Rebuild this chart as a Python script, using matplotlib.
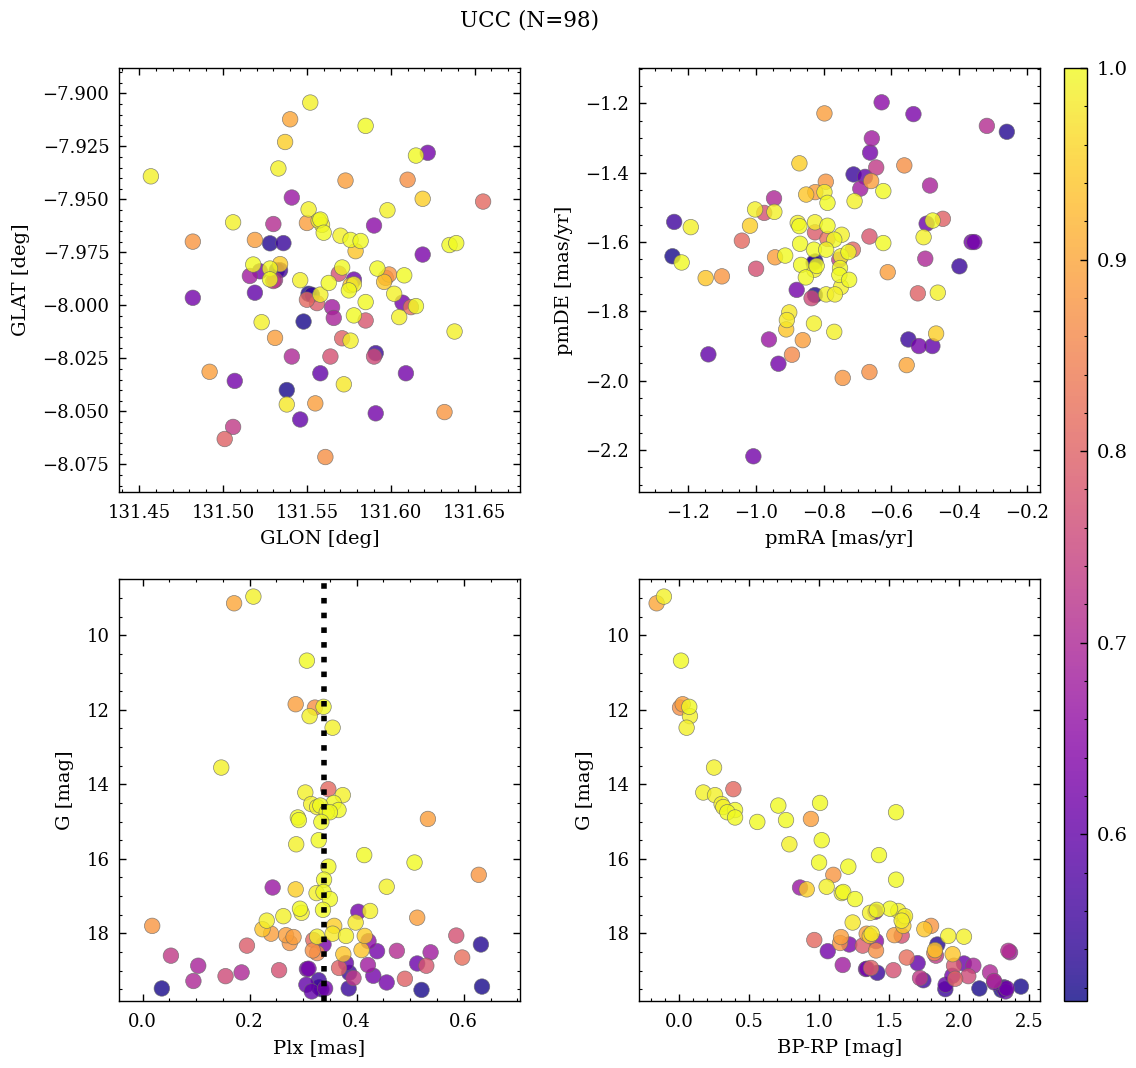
import matplotlib
matplotlib.use("Agg")
import matplotlib.pyplot as plt
import numpy as np
from matplotlib.ticker import MultipleLocator

# ---------------- data (one entry per star) ----------------
# stars grouped by membership-probability class: Y(38) YO(6) O(13) S(10) M(9) P(13) B(9)
gmag = [8.96, 10.68, 11.92, 12.17, 12.48, 13.55, 14.22, 14.29, 14.50, 14.53, 14.57, 14.61, 14.69,
        14.75, 14.75, 14.89, 14.96, 15.01, 15.50, 15.61, 15.90, 16.10, 16.21, 16.56, 16.75, 16.89,
        16.92, 17.08, 17.34, 17.37, 17.40, 17.45, 17.54, 17.66, 17.71, 18.01, 18.07, 18.09,
        16.82, 17.80, 17.89, 18.07, 18.45, 18.56,
        9.14, 11.85, 11.94, 14.93, 16.43, 17.58, 17.80, 18.01, 18.05, 18.10, 18.26, 18.46, 18.53,
        14.13, 18.06, 18.18, 18.33, 18.65, 18.87, 18.93, 18.99, 19.15, 19.22,
        16.77, 18.47, 18.51, 18.60, 18.85, 18.87, 19.05, 19.20, 19.28,
        17.42, 18.21, 18.30, 18.48, 18.80, 18.81, 18.96, 19.14, 19.32, 19.38, 19.48, 19.56, 18.95,
        18.30, 19.06, 19.26, 19.43, 19.48, 19.48, 19.52, 19.50, 19.45]

bprp = [-0.110, 0.012, 0.071, 0.076, 0.052, 0.248, 0.171, 0.255, 1.005, 0.302, 0.707, 0.314, 0.398,
        0.343, 1.548, 0.398, 0.762, 0.557, 1.017, 0.786, 1.426, 0.998, 1.207, 1.548, 1.052, 1.171,
        1.160, 1.255, 1.505, 1.410, 1.564, 1.362, 1.612, 1.588, 1.238, 1.374, 1.921, 2.033,
        0.910, 1.600, 1.750, 1.36, 1.826, 1.952,
        -0.162, 0.024, 0.005, 0.940, 1.100, 1.60, 1.798, 1.338, 1.536, 1.155, 1.148, 1.405, 1.821,
        0.386, 1.588, 0.964, 1.310, 1.624, 1.962, 1.369, 1.529, 2.064, 1.97,
        0.862, 2.350, 2.362, 1.833, 1.167, 2.100, 2.219, 1.719, 2.248,
        1.40, 1.405, 1.214, 1.060, 1.702, 2.033, 1.333, 1.950, 2.25, 1.902, 2.338, 2.33, 1.34,
        1.843, 1.414, 1.743, 2.440, 2.143, 2.314, 2.30, 1.90, 2.32]

plx = [0.207, 0.307, 0.338, 0.312, 0.355, 0.147, 0.304, 0.374, 0.357, 0.315, 0.332, 0.326, 0.366,
       0.344, 0.350, 0.290, 0.292, 0.334, 0.329, 0.287, 0.414, 0.508, 0.347, 0.339, 0.456, 0.338,
       0.325, 0.350, 0.294, 0.337, 0.425, 0.297, 0.263, 0.232, 0.398, 0.355, 0.380, 0.326,
       0.286, 0.358, 0.224, 0.415, 0.409, 0.375,
       0.171, 0.286, 0.322, 0.533, 0.628, 0.513, 0.018, 0.240, 0.268, 0.282, 0.275, 0.318, 0.326,
       0.347, 0.586, 0.319, 0.195, 0.597, 0.530, 0.367, 0.255, 0.155, 0.490,
       0.243, 0.475, 0.538, 0.053, 0.421, 0.104, 0.185, 0.394, 0.095,
       0.403, 0.422, 0.338, 0.438, 0.380, 0.513, 0.307, 0.431, 0.456, 0.306, 0.341, 0.316, 0.310,
       0.632, 0.386, 0.329, 0.634, 0.036, 0.385, 0.521, 0.334, 0.330]

prob = [0.99, 1.00, 1.00, 0.99, 0.99, 0.99, 0.99, 0.99, 1.00, 0.99, 1.00, 0.99, 1.00,
        1.00, 1.00, 1.00, 1.00, 1.00, 1.00, 0.99, 1.00, 1.00, 1.00, 1.00, 0.99, 1.00,
        0.99, 1.00, 1.00, 1.00, 0.99, 0.99, 0.99, 0.99, 0.98, 0.98, 0.99, 0.99,
        0.95, 0.95, 0.94, 0.95, 0.94, 0.94,
        0.90, 0.89, 0.87, 0.89, 0.88, 0.89, 0.88, 0.89, 0.89, 0.89, 0.88, 0.87, 0.86,
        0.81, 0.77, 0.81, 0.79, 0.82, 0.78, 0.80, 0.77, 0.76, 0.80,
        0.67, 0.71, 0.68, 0.73, 0.68, 0.69, 0.70, 0.73, 0.70,
        0.62, 0.65, 0.63, 0.62, 0.60, 0.61, 0.62, 0.62, 0.62, 0.60, 0.62, 0.60, 0.62,
        0.53, 0.55, 0.56, 0.52, 0.52, 0.55, 0.52, 0.55, 0.54]

glon = [131.552, 131.585, 131.615, 131.457, 131.533, 131.551, 131.598, 131.506, 131.558, 131.559,
        131.560, 131.570, 131.576, 131.582, 131.635, 131.639, 131.518, 131.528, 131.528, 131.546,
        131.563, 131.571, 131.575, 131.592, 131.602, 131.608, 131.558, 131.585, 131.615, 131.578,
        131.605, 131.523, 131.638, 131.576, 131.572, 131.538, 131.557, 131.578,
        131.537, 131.619, 131.579, 131.534, 131.576, 131.596,
        131.540, 131.573, 131.610, 131.550, 131.482, 131.519, 131.599, 131.531, 131.492, 131.555,
        131.632, 131.561, 131.597,
        131.655, 131.569, 131.550, 131.556, 131.612, 131.585, 131.571, 131.564, 131.590, 131.501,
        131.541, 131.530, 131.516, 131.530, 131.565, 131.566, 131.541, 131.506, 131.531,
        131.622, 131.590, 131.619, 131.522, 131.519, 131.578, 131.482, 131.607, 131.507, 131.558,
        131.609, 131.546, 131.591,
        131.528, 131.536, 131.534, 131.551, 131.548, 131.591, 131.538, 131.532, 131.553]

glat = [-7.9043, -7.9153, -7.9293, -7.9391, -7.9354, -7.9547, -7.9551, -7.9608, -7.9595, -7.9620,
        -7.9657, -7.9671, -7.9691, -7.9696, -7.9715, -7.9706, -7.9807, -7.9826, -7.9877, -7.9881,
        -7.9894, -7.9821, -7.9929, -7.9826, -7.9945, -7.9858, -7.9949, -7.9984, -8.0003, -8.0047,
        -8.0055, -8.0079, -8.0123, -8.0166, -8.0372, -8.0467, -7.9600, -7.9900,
        -7.9229, -7.9497, -7.9744, -7.9805, -7.9905, -7.9889,
        -7.9122, -7.9411, -7.9407, -7.9611, -7.9699, -7.9691, -7.9854, -8.0153, -8.0313, -8.0462,
        -8.0503, -8.0715, -7.9870,
        -7.9510, -7.9850, -7.9973, -7.9989, -8.0008, -8.0071, -8.0155, -8.0241, -8.0241, -8.0630,
        -7.9491, -7.9616, -7.9861, -7.9885, -8.0008, -8.0059, -8.0241, -8.0573, -7.9880,
        -7.9280, -7.9623, -7.9760, -7.9839, -7.9940, -7.9878, -7.9964, -7.9987, -8.0356, -8.0320,
        -8.0320, -8.0538, -8.0509,
        -7.9707, -7.9706, -7.9834, -7.9945, -8.0076, -8.0225, -8.0399, -7.9835, -7.9950]

pmra = [-0.798, -0.624, -0.789, -0.709, -1.003, -0.946, -1.193, -0.877, -0.872, -0.826,
        -0.789, -0.747, -0.769, -0.870, -0.829, -0.793, -0.727, -0.624, -0.478, -0.505,
        -1.220, -0.914, -0.867, -0.821, -0.828, -0.853, -0.749, -0.752, -0.754, -0.725,
        -0.749, -0.793, -0.767, -0.463, -0.902, -0.909, -0.829, -0.769, -0.468,
        -0.872, -0.852, -1.018, -1.149, -0.911, -0.555,
        -0.798, -0.562, -0.660, -0.794, -0.825, -1.101, -0.944, -0.611, -0.862, -0.744,
        -0.665, -0.894, -0.714,
        -0.976, -1.042, -0.826, -0.789, -0.665, -0.448, -1.000, -0.836, -0.522, -0.962,
        -0.318, -0.658, -0.645, -0.692, -0.486, -0.947, -0.754, -0.500, -0.934,
        -0.629, -0.535, -0.663, -0.678, -0.496, -0.363, -0.355, -0.880, -1.141, -0.519,
        -0.479, -1.008,
        -0.259, -0.712, -1.242, -1.247, -0.825, -0.399, -0.826, -0.550, -0.830]

pmde = [-1.456, -1.453, -1.487, -1.482, -1.506, -1.513, -1.557, -1.545, -1.554, -1.543,
        -1.553, -1.579, -1.593, -1.605, -1.622, -1.622, -1.629, -1.603, -1.538, -1.586,
        -1.659, -1.639, -1.666, -1.669, -1.680, -1.702, -1.641, -1.675, -1.695, -1.709,
        -1.730, -1.751, -1.751, -1.746, -1.803, -1.825, -1.835, -1.859, -1.864,
        -1.373, -1.463, -1.553, -1.704, -1.852, -1.955,
        -1.229, -1.379, -1.424, -1.426, -1.456, -1.699, -1.644, -1.687, -1.883, -1.992,
        -1.975, -1.925, -1.622,
        -1.516, -1.596, -1.572, -1.591, -1.584, -1.533, -1.677, -1.762, -1.748, -1.881,
        -1.265, -1.301, -1.385, -1.446, -1.437, -1.474, -1.651, -1.648, -1.951,
        -1.197, -1.231, -1.342, -1.412, -1.547, -1.600, -1.600, -1.738, -1.924, -1.900,
        -1.900, -2.218,
        -1.282, -1.405, -1.542, -1.641, -1.656, -1.670, -1.753, -1.881, -1.660]

plx_cluster = 0.339
title = "UCC (N=98)"

# ---------------- style ----------------
plt.rcParams.update({
    "font.family": "serif",
    "font.serif": ["DejaVu Serif"],
    "font.size": 13,
    "axes.labelsize": 14,
    "xtick.direction": "in", "ytick.direction": "in",
    "xtick.top": True, "ytick.right": True,
    "xtick.major.size": 5, "ytick.major.size": 5,
    "xtick.minor.size": 2.5, "ytick.minor.size": 2.5,
    "xtick.major.width": 1.0, "ytick.major.width": 1.0,
    "xtick.minor.width": 0.8, "ytick.minor.width": 0.8,
    "xtick.major.pad": 8.5, "ytick.major.pad": 7,
    "xtick.minor.visible": True, "ytick.minor.visible": True,
    "axes.linewidth": 1.0,
    "axes.labelpad": 6,
})

gmag = np.array(gmag); bprp = np.array(bprp); plx = np.array(plx); prob = np.array(prob)
glon = np.array(glon); glat = np.array(glat); pmra = np.array(pmra); pmde = np.array(pmde)
order = np.argsort(prob, kind="stable")

W, H = 1136, 1068
fig = plt.figure(figsize=(W / 100, H / 100), dpi=100)

def box(l, t, r, b):
    return [l / W, 1 - b / H, (r - l) / W, (b - t) / H]

ax1 = fig.add_axes(box(119, 68, 520, 492))
ax2 = fig.add_axes(box(639, 68, 1040, 492))
ax3 = fig.add_axes(box(119, 579, 520, 1001))
ax4 = fig.add_axes(box(639, 579, 1040, 1001))
cax = fig.add_axes(box(1064, 68, 1087, 1001))

kw = dict(c=prob[order], cmap="plasma", vmin=0.513, vmax=1.0, s=125, alpha=0.8,
          edgecolors="dimgray", linewidths=0.5)

sc = ax1.scatter(glon[order], glat[order], **kw)
ax1.set_xlim(131.438, 131.677)
ax1.set_ylim(-8.088, -7.888)
ax1.xaxis.set_major_locator(MultipleLocator(0.05))
ax1.xaxis.set_minor_locator(MultipleLocator(0.01))
ax1.yaxis.set_major_locator(MultipleLocator(0.025))
ax1.yaxis.set_minor_locator(MultipleLocator(0.005))
ax1.set_xlabel("GLON [deg]")
ax1.set_ylabel("GLAT [deg]", labelpad=9)

ax2.scatter(pmra[order], pmde[order], **kw)
ax2.set_xlim(-1.346, -0.161)
ax2.set_ylim(-2.321, -1.098)
ax2.xaxis.set_major_locator(MultipleLocator(0.2))
ax2.xaxis.set_minor_locator(MultipleLocator(0.05))
ax2.yaxis.set_major_locator(MultipleLocator(0.2))
ax2.yaxis.set_minor_locator(MultipleLocator(0.05))
ax2.set_xlabel("pmRA [mas/yr]")
ax2.set_ylabel("pmDE [mas/yr]", labelpad=9)

ax3.scatter(plx[order], gmag[order], **kw)
ax3.axvline(plx_cluster, color="black", ls=":", lw=4, zorder=5)
ax3.set_xlim(-0.044, 0.705)
ax3.set_ylim(19.817, 8.488)
ax3.xaxis.set_major_locator(MultipleLocator(0.2))
ax3.xaxis.set_minor_locator(MultipleLocator(0.05))
ax3.yaxis.set_major_locator(MultipleLocator(2))
ax3.yaxis.set_minor_locator(MultipleLocator(0.5))
ax3.set_xlabel("Plx [mas]")
ax3.set_ylabel("G [mag]", labelpad=9)

ax4.scatter(bprp[order], gmag[order], **kw)
ax4.set_xlim(-0.288, 2.576)
ax4.set_ylim(19.817, 8.488)
ax4.xaxis.set_major_locator(MultipleLocator(0.5))
ax4.xaxis.set_minor_locator(MultipleLocator(0.1))
ax4.yaxis.set_major_locator(MultipleLocator(2))
ax4.yaxis.set_minor_locator(MultipleLocator(0.5))
ax4.set_xlabel("BP-RP [mag]")
ax4.set_ylabel("G [mag]", labelpad=9)

cb = fig.colorbar(sc, cax=cax)
cb.set_ticks([0.6, 0.7, 0.8, 0.9, 1.0])
cb.ax.yaxis.set_minor_locator(MultipleLocator(0.02))
cb.ax.tick_params(which="both", direction="in", right=True, left=False, labelsize=14)
cb.outline.set_linewidth(1.0)

fig.text(530 / W, 1 - 20 / H, title, ha="center", va="center", fontsize=15.5)

fig.savefig("out.png", dpi=100)
